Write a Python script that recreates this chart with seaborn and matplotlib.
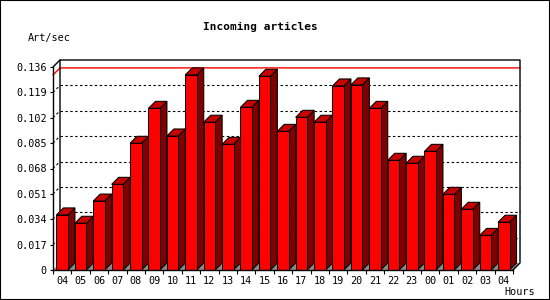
import matplotlib
matplotlib.use("Agg")
import matplotlib.pyplot as plt
import seaborn as sns
import numpy as np
import pandas as pd
from matplotlib.patches import Polygon, Rectangle
from matplotlib.lines import Line2D

hours = ["04", "05", "06", "07", "08", "09", "10", "11", "12", "13", "14", "15", "16",
         "17", "18", "19", "20", "21", "22", "23", "00", "01", "02", "03", "04"]
rates = [0.0369, 0.0313, 0.0462, 0.0574, 0.0849, 0.1083, 0.0898, 0.1307, 0.0990,
         0.0842, 0.1090, 0.1298, 0.0929, 0.1023, 0.0990, 0.1233, 0.1240, 0.1083,
         0.0735, 0.0715, 0.0795, 0.0507, 0.0407, 0.0232, 0.0320]
yticks = [0, 0.017, 0.034, 0.051, 0.068, 0.085, 0.102, 0.119, 0.136]
ytick_labels = ["0", "0.017", "0.034", "0.051", "0.068", "0.085", "0.102", "0.119", "0.136"]

sns.set_theme(style="white")
plt.rcParams['font.family'] = ['DejaVu Sans Mono']

W, H = 550, 300
fig = plt.figure(figsize=(5.5, 3), dpi=100)
fig.patch.set_facecolor("white")
ax_l, ax_b, ax_w, ax_h = 53, 30, 460, 203
ax = fig.add_axes([ax_l / W, ax_b / H, ax_w / W, ax_h / H])
ax.set_facecolor("none")

df = pd.DataFrame({"slot": list(range(len(rates))), "rate": rates})
sns.barplot(data=df, x="slot", y="rate", color="#ff0000", saturation=1, width=0.625,
            edgecolor="black", linewidth=0.75, ax=ax, zorder=4)

n = len(rates)
x_lo, x_hi = -0.5, n - 0.5
ymax = yticks[-1]
ax.set_xlim(x_lo, x_hi)
ax.set_ylim(0, ymax)

depth_px = 7
dx = depth_px * (x_hi - x_lo) / ax_w
dy = depth_px * ymax / ax_h

# floor
ax.add_patch(Polygon([(x_lo, 0), (x_hi, 0), (x_hi + dx, dy), (x_lo + dx, dy)],
                     closed=True, facecolor="#8c8c8c", edgecolor="none", zorder=1, clip_on=False))

# back wall grid (dotted) and left wall diagonals
for t in yticks[1:-1]:
    ax.add_line(Line2D([x_lo + dx, x_hi + dx], [t + dy, t + dy], color="black", lw=0.8,
                       linestyle=(0, (2.2, 2.2)), zorder=2, clip_on=False))
    ax.add_line(Line2D([x_lo, x_lo + dx], [t, t + dy], color="black", lw=0.8,
                       linestyle=(0, (2.2, 2.2)), zorder=2, clip_on=False))

# max line (red)
mx = max(rates)
ax.add_line(Line2D([x_lo, x_lo + dx, x_hi + dx], [mx, mx + dy, mx + dy], color="#ff0000",
                   lw=1.0, zorder=2.5, clip_on=False))

# back wall frame
ax.add_line(Line2D([x_lo + dx, x_lo + dx, x_hi + dx, x_hi + dx, x_hi],
                   [dy, ymax + dy, ymax + dy, dy, 0], color="black", lw=1.0, zorder=2.6,
                   clip_on=False))
# front left top diagonal
ax.add_line(Line2D([x_lo, x_lo + dx], [ymax, ymax + dy], color="black", lw=1.0, zorder=2.6,
                   clip_on=False))

# 3D sides and tops from the seaborn bars
for p in list(ax.patches):
    if not isinstance(p, Rectangle):
        continue
    x0 = p.get_x()
    w = p.get_width()
    h = p.get_height()
    x1 = x0 + w
    side = Polygon([(x1, 0), (x1 + dx, dy), (x1 + dx, h + dy), (x1, h)], closed=True,
                   facecolor="#800000", edgecolor="black", linewidth=0.75, zorder=3.5,
                   clip_on=False)
    top = Polygon([(x0, h), (x0 + dx, h + dy), (x1 + dx, h + dy), (x1, h)], closed=True,
                  facecolor="#c80000", edgecolor="black", linewidth=0.75, zorder=3.5,
                  clip_on=False)
    ax.add_patch(side)
    ax.add_patch(top)

# floor shading triangle under sides: cover floor part hidden under side faces
for s in ["top", "right"]:
    ax.spines[s].set_visible(False)
for s in ["left", "bottom"]:
    ax.spines[s].set_color("black")
    ax.spines[s].set_linewidth(1.0)
    ax.spines[s].set_zorder(5)

ax.set_yticks(yticks)
ax.set_yticklabels(ytick_labels)
ax.set_xticks(range(n))
ax.set_xticklabels(hours)
ax.set_xticks(np.arange(n + 1) - 0.5, minor=True)
ax.tick_params(axis="y", which="major", direction="out", length=2.5, width=0.8, color="black",
               pad=2, labelsize=7.3, labelcolor="black", left=True)
ax.tick_params(axis="x", which="major", length=0, pad=4, labelsize=7.3, labelcolor="black",
               bottom=True)
ax.tick_params(axis="x", which="minor", direction="out", length=3, width=0.8, color="black",
               bottom=True)
ax.set_xlabel("")
ax.set_ylabel("")
ax.grid(False)

fig.text(260 / W, 1 - 27 / H, "Incoming articles", ha="center", va="center",
         fontsize=8, fontweight="bold", color="black")
fig.text(28 / W, 1 - 37.5 / H, "Art/sec", ha="left", va="center", fontsize=7.3, color="black")
fig.text(504 / W, 1 - 292 / H, "Hours", ha="left", va="center", fontsize=7.3, color="black")

fig.patches.append(Rectangle((0, 0), 1, 1, transform=fig.transFigure, fill=False,
                             edgecolor="black", linewidth=1.5))

fig.savefig("out.png", dpi=100)
